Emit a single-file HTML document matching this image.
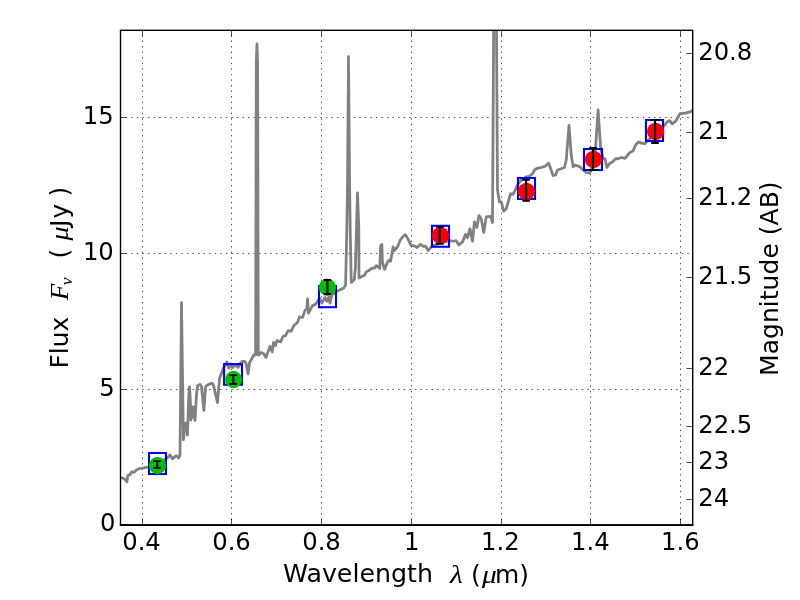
<!DOCTYPE html>
<html><head><meta charset="utf-8"><title>SED</title>
<style>html,body{margin:0;padding:0;background:#fff}svg{display:block}text{font-family:"DejaVu Sans","Liberation Sans",sans-serif;fill:#000}.m{font-family:"Liberation Serif","DejaVu Serif",serif;font-style:italic}</style></head><body>
<svg width="800" height="600" viewBox="0 0 800 600">
<rect width="800" height="600" fill="#fff"/>
<defs><clipPath id="ax"><rect x="120.5" y="30.3" width="572.2" height="494.7"/></clipPath></defs>
<path d="M142.5 525V30.3M231.5 525V30.3M321.5 525V30.3M411.5 525V30.3M501.5 525V30.3M590.5 525V30.3M680.5 525V30.3" stroke="#000" stroke-width="0.7" stroke-dasharray="1.39 4.17" stroke-dashoffset="0.6" fill="none"/>
<path d="M120.5 524.5H692.7M120.5 389.5H692.7M120.5 253.5H692.7M120.5 117.5H692.7" stroke="#000" stroke-width="0.7" stroke-dasharray="1.39 4.17" stroke-dashoffset="0.28" fill="none"/>
<polyline clip-path="url(#ax)" points="120.5,477.5 124.4,478.75 126.9,481.9 127.8,475.6 130,474.8 131.6,472 134,472.3 136.5,470 139,468.6 142.5,468.1 148.75,466.9 157,463 166.25,458.75 170,455 172.5,458.75 176.25,455.6 178.75,458.1 180,455 181.5,302.6 183.4,439.75 185.3,423.2 186.3,423.5 187.5,435 188.6,400 189.5,386.8 190.3,400 190.9,420 191.9,407 193,417 194.1,407 195,420.3 196.5,395 197.6,385.5 200,384.4 201.5,386.5 203.9,410.3 205.6,387 207,385.2 211.9,383.1 213.5,385.3 217.5,402.7 219.5,378.6 223.75,367.5 226.9,361.9 228.75,368.1 230.6,363.75 232.5,367.5 235,365 238.1,367.5 240,363.75 242,361.5 244.6,361.3 246.1,363.5 248.1,373.9 249.6,362.5 251,360.2 253.75,355 255.6,355 256.3,62 256.95,43.8 257.6,62 258.3,355 258.75,355 261.25,352.5 263.75,353.75 266,357.5 270,346.25 272.25,351.9 273.5,342.5 275.6,345.6 276.9,340.6 280.6,341.9 283.1,336.25 285.6,335.6 288.1,330.6 291.25,331.25 293.75,325.6 297.5,322.5 299.4,316.9 302.5,317.5 305,310.6 306.9,308.75 307.5,298.8 308.5,313.1 312.5,305.6 315.6,304.4 319.4,298.1 321.9,303.1 325,297.5 326.9,301.25 328.75,297 330,303.1 331.9,295 336.9,291.25 343.75,288.1 345.6,285 346.7,235 347.5,185 348.5,56.6 349.6,185 350.3,235 351.25,282.5 354.25,279.5 355.4,268 356.6,225 357.5,193 358.8,228 359,278.1 362.4,276.3 364.6,275.2 366.2,271.9 368.75,270.6 371.9,268.1 374.4,268.1 376.25,265.6 379.8,268.3 380.6,246 381.9,244.5 382.4,262 384.6,269.4 387.5,261.9 389.4,260 390.6,261.25 393.1,246.9 394.4,250.6 397.5,246.9 400,240.6 403.1,236.25 405.3,234.6 407.5,238.1 411.25,245.6 413.75,245.6 416.9,247.5 420.6,244.4 423.1,246.25 425.6,246.25 428.1,250.6 431.9,246.25 440,243 450,240.6 453.1,241.25 456.25,240.6 458.75,245 462.5,241.9 465.6,234.4 467.5,237.5 470,228.75 472.5,241.25 474.4,221.9 476.9,227.5 479,215.6 481.25,218.75 483.75,232.5 486.25,216.9 490.6,216.25 492.5,222.5 495,-200 497.5,190 499.4,201.9 501.25,201.9 503.75,211.25 506.25,208.75 510.6,193.75 513.1,194.4 517.5,185 520,181.25 526.25,176.9 529.4,176.25 532.5,173.75 535,169.4 538.1,168.1 541.25,167.5 545,166.25 548.75,163.1 553.1,175.6 555.6,175 557.5,170 561.25,168.75 564.4,167.5 566.25,160 569,125.5 571.25,155 573.1,166.9 575,165 580,166.9 583.1,170 586.25,172.5 589.4,173.1 590.6,171.25 593,165 595.6,147.5 598.1,110 600.6,147.5 603.1,158.75 605,158.75 606.9,167.5 609.4,163.75 612.5,161.9 615.6,158.75 618.1,158.75 621.25,157.5 625,158.4 629.4,152.8 633,151 635.6,145 638.4,141.9 641.25,143.1 645,143.75 646.9,141.25 655,134 663.75,126.25 667,122 669.8,120.6 672.2,123.8 675.6,121.2 680,113.75 685,113.1 690,111.9 692.5,110.6" fill="none" stroke="#808080" stroke-width="2.78" stroke-linejoin="round" stroke-linecap="butt"/>
<rect x="149" y="453" width="17" height="21" fill="none" stroke="#0000ff" stroke-width="2.08"/>
<rect x="224.1" y="364.1" width="17.9" height="20.65" fill="none" stroke="#0000ff" stroke-width="2.08"/>
<rect x="319" y="286" width="17" height="21.2" fill="none" stroke="#0000ff" stroke-width="2.08"/>
<rect x="432" y="225.8" width="17" height="20.95" fill="none" stroke="#0000ff" stroke-width="2.08"/>
<rect x="518" y="178" width="17" height="21" fill="none" stroke="#0000ff" stroke-width="2.08"/>
<rect x="584" y="149" width="18" height="21" fill="none" stroke="#0000ff" stroke-width="2.08"/>
<rect x="646" y="120" width="17" height="21" fill="none" stroke="#0000ff" stroke-width="2.08"/>
<circle cx="157.5" cy="465.5" r="8.65" fill="#00bf00"/>
<circle cx="233.6" cy="379.5" r="8.65" fill="#00bf00"/>
<circle cx="327.4" cy="287.25" r="8.65" fill="#00bf00"/>
<circle cx="440.5" cy="235.4" r="8.65" fill="#ff0000"/>
<circle cx="526.5" cy="191.4" r="8.65" fill="#ff0000"/>
<circle cx="593.5" cy="159.4" r="8.65" fill="#ff0000"/>
<circle cx="655.6" cy="131.4" r="8.65" fill="#ff0000"/>
<path d="M157.2 461.1V467.9" stroke="#000" stroke-width="2.2" fill="none"/><path d="M153.4 461.1h7.6M153.4 467.9h7.6" stroke="#000" stroke-width="1.8" fill="none"/>
<path d="M233.25 375.1V384" stroke="#000" stroke-width="2.2" fill="none"/><path d="M229.45 375.1h7.6M229.45 384h7.6" stroke="#000" stroke-width="1.8" fill="none"/>
<path d="M327.4 280V294" stroke="#000" stroke-width="2.2" fill="none"/><path d="M323.6 280h7.6M323.6 294h7.6" stroke="#000" stroke-width="1.8" fill="none"/>
<path d="M439.8 226.9V243.9" stroke="#000" stroke-width="2.2" fill="none"/><path d="M436 226.9h7.6M436 243.9h7.6" stroke="#000" stroke-width="1.8" fill="none"/>
<path d="M526.1 179.9V200.9" stroke="#000" stroke-width="2.2" fill="none"/><path d="M522.3 179.9h7.6M522.3 200.9h7.6" stroke="#000" stroke-width="1.8" fill="none"/>
<path d="M593 148V170" stroke="#000" stroke-width="2.2" fill="none"/><path d="M589.2 148h7.6M589.2 170h7.6" stroke="#000" stroke-width="1.8" fill="none"/>
<path d="M655 120V143" stroke="#000" stroke-width="2.2" fill="none"/><path d="M651.2 120h7.6M651.2 143h7.6" stroke="#000" stroke-width="1.8" fill="none"/>
<path d="M142.5 525v-6.3M142.5 30.3v6.3M231.5 525v-6.3M231.5 30.3v6.3M321.5 525v-6.3M321.5 30.3v6.3M411.5 525v-6.3M411.5 30.3v6.3M501.5 525v-6.3M501.5 30.3v6.3M590.5 525v-6.3M590.5 30.3v6.3M680.5 525v-6.3M680.5 30.3v6.3M120.5 524.5h6.3M120.5 389.5h6.3M120.5 253.5h6.3M120.5 117.5h6.3M692.7 53.5h-6.3M692.7 132.5h-6.3M692.7 198.5h-6.3M692.7 277.5h-6.3M692.7 368.5h-6.3M692.7 426.5h-6.3M692.7 462.5h-6.3M692.7 499.5h-6.3" stroke="#000" stroke-width="0.7" fill="none"/>
<rect x="120.5" y="30.3" width="572.2" height="494.7" fill="none" stroke="#000" stroke-width="1.39"/>
<path d="M119.8 525.15H693.4" stroke="#000" stroke-width="1.9" fill="none"/>
<text transform="translate(122.198 549.6) scale(1 1.04)" font-size="24.3">0.4</text>
<text transform="translate(212.198 549.6) scale(1 1.04)" font-size="24.3">0.6</text>
<text transform="translate(302.198 549.6) scale(1 1.04)" font-size="24.3">0.8</text>
<text transform="translate(403.88 549.6) scale(1 1.04)" font-size="24.3">1</text>
<text transform="translate(480.98 549.6) scale(1 1.04)" font-size="24.3">1.2</text>
<text transform="translate(570.98 549.6) scale(1 1.04)" font-size="24.3">1.4</text>
<text transform="translate(660.98 549.6) scale(1 1.04)" font-size="24.3">1.6</text>
<text transform="translate(115.4 530.5) scale(1 1.04)" font-size="24.3" text-anchor="end">0</text>
<text transform="translate(114.7 395.5) scale(1 1.04)" font-size="24.3" text-anchor="end">5</text>
<text transform="translate(113.8 259.5) scale(1 1.04)" font-size="24.3" text-anchor="end">10</text>
<text transform="translate(113.7 123.5) scale(1 1.04)" font-size="24.3" text-anchor="end">15</text>
<text transform="translate(698.2 59.6) scale(1 1.04)" font-size="24.3">20.8</text>
<text transform="translate(698.2 138.6) scale(1 1.04)" font-size="24.3">21</text>
<text transform="translate(698.2 204.6) scale(1 1.04)" font-size="24.3">21.2</text>
<text transform="translate(698.2 283.6) scale(1 1.04)" font-size="24.3">21.5</text>
<text transform="translate(698.2 374.6) scale(1 1.04)" font-size="24.3">22</text>
<text transform="translate(698.2 432.6) scale(1 1.04)" font-size="24.3">22.5</text>
<text transform="translate(698.2 468.6) scale(1 1.04)" font-size="24.3">23</text>
<text transform="translate(698.2 505.6) scale(1 1.04)" font-size="24.3">24</text>
<text x="283.0" y="582.2" font-size="25.3">Wavelength</text>
<text transform="translate(450 583) scale(1.17 1)" font-size="25.2" class="m">λ</text>
<text x="471.0" y="582.5" font-size="24.9">(</text>
<text transform="translate(481.9 582.8) scale(1.17 1)" font-size="25.2" class="m">μ</text>
<text x="495.1" y="582.5" font-size="24.9">m)</text>
<g transform="translate(68.1 0) rotate(-90)">
<text x="-368.6" y="0" font-size="24.9">Flux</text>
<text transform="translate(-300.3 0) scale(1.06 1)" font-size="25.5" class="m">F</text>
<text transform="translate(-285.2 3.7) scale(1 1)" font-size="17.5" class="m">ν</text>
<text x="-258.5" y="0.2" font-size="24.9">(</text>
<text transform="translate(-240.4 -0.3) scale(1.15 1)" font-size="24.5" class="m">μ</text>
<text x="-227.0" y="0" font-size="24.9">J</text>
<text x="-218.5" y="0" font-size="24.9">y</text>
<text x="-196.6" y="0.2" font-size="24.9">)</text>
</g>
<text transform="translate(778.0 375.9) rotate(-90)" font-size="25.06">Magnitude (AB)</text>
</svg></body></html>
